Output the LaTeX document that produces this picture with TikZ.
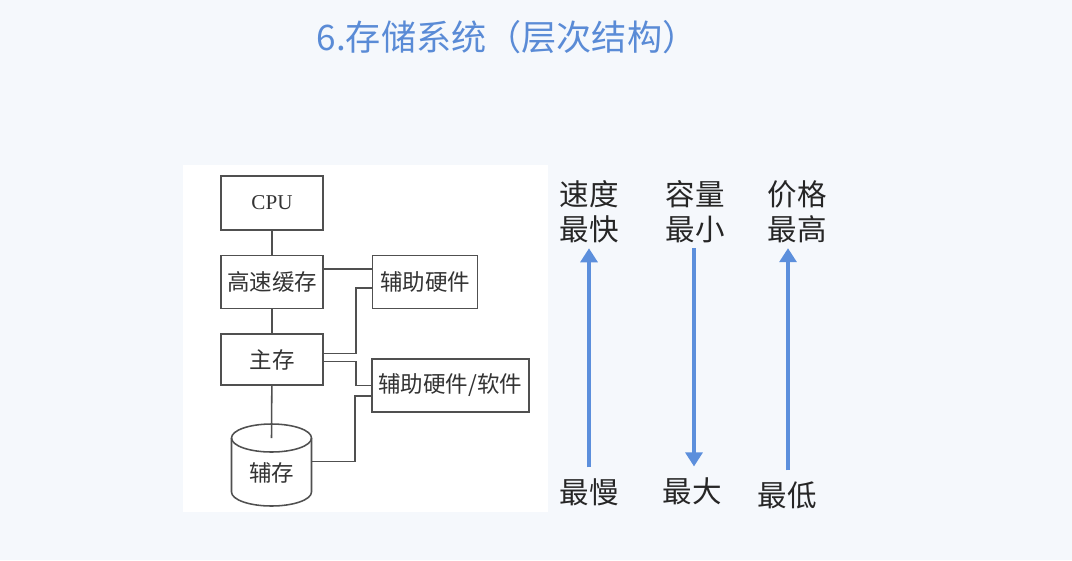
\documentclass[tikz,border=0pt]{standalone}
\usepackage{fontspec}
\setmainfont{Liberation Serif}
\newfontfamily\cjk{Noto Sans CJK SC}
\usetikzlibrary{arrows.meta,calc,positioning}
\definecolor{titleblue}{RGB}{90,139,214}
\definecolor{arrowblue}{RGB}{92,143,220}
\definecolor{boxgray}{RGB}{80,80,80}
\definecolor{pagebg}{RGB}{245,248,252}

\begin{document}
\begin{tikzpicture}[
    x=0.025cm, y=-0.025cm,
    node distance=0.6cm and 1.2cm,
    every node/.style={font=\cjk},
    unit/.style={rectangle, draw=boxgray, line width=1.1pt, text=black!80, font=\cjk\fontsize{16}{18}\selectfont, minimum width=2.55cm, minimum height=1.32cm},
    wire/.style={boxgray, line width=1.1pt},
    tag/.style={text=black!85, align=center, font=\cjk\fontsize{21}{25}\selectfont},
    flow/.style={arrowblue, line width=2.8pt, -{Triangle[width=12pt, length=10pt]}}
    ]
    \useasboundingbox (0,0) rectangle (1072,560);
    \fill[pagebg] (0,0) rectangle (1072,560);
    \fill[white] (183,165) rectangle (548,512);
    % Title
    \node[text=titleblue, font=\cjk\fontsize{25}{28}\selectfont] (title) at (507,37) {6.存储系统（层次结构）};
    % Hierarchy
    \node[unit, minimum height=1.35cm, font=\fontsize{15}{18}\selectfont] (cpu) at (272,203) {CPU};
    \node[unit, below=of cpu] (cache) {高速缓存};
    \node[unit, below=of cache, minimum height=1.28cm] (main) {主存};
    \node[unit, right=of cache, minimum width=2.625cm] (aux1) {辅助硬件};
    \node[unit, anchor=west, minimum width=3.925cm] (aux2) at (371,385.5) {辅助硬件/软件};
    % Disk
    \coordinate (disktop) at (271.5,438);
    \coordinate (diskright) at (311.5,461.7);
    \draw[wire] (231.5,438) -- (231.5,492) arc[start angle=180, end angle=0, x radius=40, y radius=14] -- (311.5,438);
    \draw[wire] (disktop) ellipse[x radius=40, y radius=14];
    \node[text=black!80, font=\cjk\fontsize{16}{18}\selectfont] (disk) at (271.5,473) {辅存};
    % Links
    \draw[wire] (cpu) -- (cache);
    \draw[wire] (cache) -- (main);
    \draw[wire] (main) -- (disktop);
    \draw[wire] ($(cache.east)+(0,-13)$) -- ($(aux1.west)+(0,-13)$);
    \draw[wire] ($(main.east)+(0,-6)$) -- ++(32,0) |- ($(aux1.west)+(0,6)$);
    \draw[wire] ($(main.east)+(0,2)$) -- ++(32,0) |- (aux2.west);
    \draw[wire] (diskright) -- ++(43.5,0) |- ($(aux2.west)+(0,10.5)$);
    % Trends
    \node[tag] (fast) at (589,212) {速度\\最快};
    \node[tag] (slow) at (589,492) {最慢};
    \draw[flow, shorten <=0.15cm] (slow.north) -- (fast.south);
    \node[tag] (small) at (695,212) {容量\\最小};
    \node[tag] (big) at (692,491) {最大};
    \draw[flow, shorten >=0.15cm] (small.south -| 694,0) -- (big.north -| 694,0);
    \node[tag] (high) at (797,212) {价格\\最高};
    \node[tag] (low) at (787,495) {最低};
    \draw[flow, shorten <=0.15cm] (low.north -| 788,0) -- (high.south -| 788,0);
\end{tikzpicture}
\end{document}
